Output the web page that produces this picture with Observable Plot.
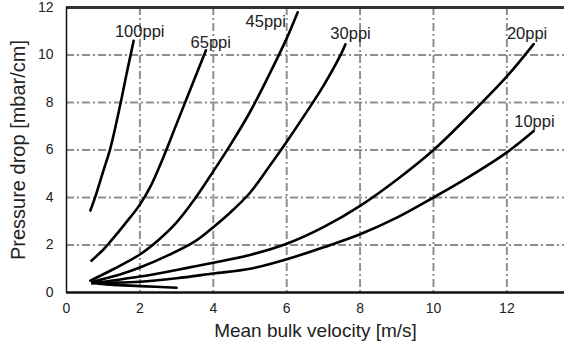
<!DOCTYPE html>
<html><head><meta charset="utf-8">
<script src="https://cdn.jsdelivr.net/npm/d3@7"></script>
<script src="https://cdn.jsdelivr.net/npm/@observablehq/plot@0.6"></script>
<style>
html,body{margin:0;padding:0;background:#fff;}
#chart svg{font-family:"Liberation Sans",Arial,sans-serif;}
</style>
</head><body><div id="chart"></div>
<script>
const seriesNames = ["100ppi","65ppi","45ppi","30ppi","20ppi","10ppi"];
const v100 = [0.65,0.8,1.0,1.2,1.45,1.65,1.83];
const p100 = [3.45,4.1,5.1,6.1,7.8,9.3,10.6];
const v65 = [0.68,1.0,1.2,1.6,2.0,2.3,2.6,3.0,3.4,3.8];
const p65 = [1.34,1.8,2.15,2.9,3.7,4.5,5.55,7.1,8.65,10.2];
const v45 = [0.65,1.3,2.0,2.5,3.0,3.5,4.0,4.5,5.0,5.5,6.0,6.3];
const p45 = [0.5,1.0,1.6,2.2,2.95,3.95,5.1,6.3,7.6,9.1,10.7,11.8];
const v30 = [0.7,1.5,2.0,2.75,3.5,4.0,4.5,5.0,5.5,6.0,6.5,7.0,7.5,7.6];
const p30 = [0.45,0.78,1.05,1.55,2.15,2.75,3.42,4.2,5.25,6.35,7.5,8.7,10.1,10.45];
const v20 = [0.7,2.0,3.0,4.0,5.0,6.0,7.0,8.0,9.0,10.0,11.0,12.0,12.73];
const p20 = [0.38,0.67,0.95,1.25,1.58,2.05,2.75,3.65,4.75,6.0,7.5,9.1,10.46];
const v10 = [3.0,2.0,1.2,0.7,1.2,2.0,3.0,4.0,5.0,6.0,7.0,8.0,9.0,10.0,11.0,12.0,12.73];
const p10 = [0.2,0.27,0.33,0.4,0.41,0.45,0.6,0.8,1.0,1.4,1.9,2.45,3.15,4.0,4.9,5.9,6.8];
const labelX = [1.32,3.38,4.88,7.19,12.0,12.2];
const labelY = [11.0,10.5,11.4,10.9,10.9,7.2];
const xTicks = [0,2,4,6,8,10,12];
const yTicks = [0,2,4,6,8,10,12];
const xGrid = [2,4,6,8,10,12];
const yGrid = [2,4,6,8,10];

const vs = [v100,v65,v45,v30,v20,v10];
const ps = [p100,p65,p45,p30,p20,p10];
const rows = [];
seriesNames.forEach((s,i)=>vs[i].forEach((v,j)=>rows.push({s, v, p: ps[i][j]})));
const labels = seriesNames.map((s,i)=>({s, x: labelX[i], y: labelY[i]}));

const chart = Plot.plot({
  width: 564, height: 349,
  marginLeft: 66, marginRight: 0, marginTop: 7, marginBottom: 57,
  x: {domain: [0, 13.57]},
  y: {domain: [0, 12]},
  style: {fontFamily: "Liberation Sans, Arial, sans-serif", color: "#222", background: "#fff"},
  marks: [
    Plot.ruleX(xGrid, {stroke: "#8f8f8f", strokeWidth: 2, strokeDasharray: "8,3,2,3", strokeOpacity: 1}),
    Plot.ruleY(yGrid, {stroke: "#8f8f8f", strokeWidth: 2, strokeDasharray: "8,3,2,3", strokeOpacity: 1}),
    Plot.ruleY([12], {stroke: "#333", strokeWidth: 3}),
    Plot.ruleY([0], {stroke: "#111", strokeWidth: 2.5}),
    Plot.ruleX([0], {stroke: "#111", strokeWidth: 1.5}),
    Plot.line(rows, {x: "v", y: "p", z: "s", stroke: "#000", strokeWidth: 2.6, curve: "catmull-rom"}),
    Plot.text(labels, {x: "x", y: "y", text: "s", textAnchor: "start", fontSize: 16.5, fill: "#222"}),
    Plot.axisX(xTicks, {tickSize: 0, tickPadding: 11, fontSize: 14, label: null}),
    Plot.axisY(yTicks, {tickSize: 0, tickPadding: 13, fontSize: 14, label: null}),
    Plot.text(["Mean bulk velocity [m/s]"], {frameAnchor: "bottom", dy: 44, fontSize: 19, fill: "#222"}),
    Plot.text(["Pressure drop [mbar/cm]"], {frameAnchor: "left", textAnchor: "middle", dx: -48, rotate: -90, fontSize: 20, fill: "#222"})
  ]
});
document.getElementById("chart").appendChild(chart);
</script>
</body></html>
